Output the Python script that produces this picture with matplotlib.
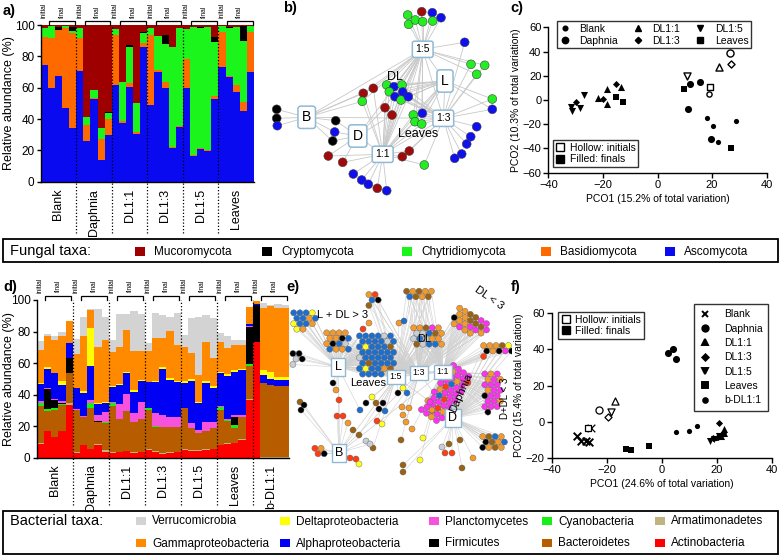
import numpy as np
import matplotlib
matplotlib.use('Agg')
import matplotlib.pyplot as plt
from matplotlib.patches import Rectangle
from matplotlib.lines import Line2D

plt.rcParams['font.family'] = ['Liberation Sans', 'DejaVu Sans']
plt.rcParams['axes.linewidth'] = 1.0
NARROW = ['Liberation Sans Narrow', 'Liberation Sans', 'DejaVu Sans']

W, H = 780, 559
fig = plt.figure(figsize=(W / 100, H / 100), dpi=100)


def add_px_axes(x0, y0, x1, y1, **kw):
    return fig.add_axes([x0 / W, 1 - y1 / H, (x1 - x0) / W, (y1 - y0) / H], **kw)


# ---------------------------------------------------------------- data (a)
groups_a = ['Blank', 'Daphnia', 'DL1:1', 'DL1:3', 'DL1:5', 'Leaves']
fungal_taxa = ['Mucoromycota', 'Cryptomycota', 'Chytridiomycota', 'Basidiomycota', 'Ascomycota']
fungal_colors = ['#9e0000', '#000000', '#1cf51c', '#ff6a00', '#0a0af0']
ascomycota = [74.5, 59.6, 67.4, 47.2, 34, 70.6, 26.2, 52.6, 13.8, 29.8,
              61.7, 37.2, 60.2, 30.2, 86.2, 48.9, 70.2, 59.6, 21.7, 34.7,
              59.6, 16.4, 20.6, 19.8, 52.8, 73.4, 66.6, 57.4, 45.3, 70.2]
basidiomycota = [18, 31.9, 29.6, 51.1, 61, 21.4, 10, 0.6, 13.2, 10,
                 31.9, 1.8, 3, 1.3, 2.1, 44.7, 1.1, 4.2, 0.5, 0.8,
                 18.4, 0.6, 0.7, 0.6, 2.1, 22.3, 0.8, 4.3, 5.7, 25.5]
chytridiomycota = [5.8, 8, 0, 1.2, 1, 6.3, 5.3, 5.3, 7, 3.8,
                   3.6, 24.8, 22.5, 18.5, 6.4, 4.3, 21.7, 23.9, 63.5, 62.4,
                   19.4, 82, 76.6, 78.6, 34.1, 3.7, 30.9, 37.2, 39, 3.7]
cryptomycota = [0, 0, 2, 0, 3, 0, 0, 0, 0, 0.8,
                0, 0, 1.5, 0, 1, 0, 0, 5.9, 0, 0,
                0, 0, 1.1, 0, 3.5, 0, 0.6, 0, 9.4, 0]
mucoromycota = [1.7, 0.5, 1, 0.5, 1, 1.7, 58.5, 41.5, 66, 55.6,
                2.8, 36.2, 12.8, 50, 4.3, 2.1, 7, 6.4, 14.3, 2.1,
                2.6, 1, 1, 1, 7.5, 0.6, 1.1, 1.1, 0.6, 0.6]

# ---------------------------------------------------------------- data (d)
groups_d = ['Blank', 'Daphnia', 'DL1:1', 'DL1:3', 'DL1:5', 'Leaves', 'b-DL1:1']
bact_taxa = ['Verrucomicrobia', 'Gammaproteobacteria', 'Deltaproteobacteria', 'Alphaproteobacteria',
             'Planctomycetes', 'Firmicutes', 'Cyanobacteria', 'Bacteroidetes',
             'Armatimonadetes', 'Actinobacteria']
bact_colors = ['#d3d3d3', '#ff8a00', '#ffff00', '#0000f5', '#f752dc', '#000000',
               '#17f017', '#b85c00', '#c2b37e', '#ff0000']
actinobacteria = [9, 17, 13.5, 17, 33.5, 3, 8.5, 5.5, 8.5, 4, 3, 3.5, 4.5, 3, 3.5,
                  5, 4, 2.5, 3, 3.5, 5, 4.5, 4.5, 5, 5.5, 8, 9, 9.3, 11.4, 36.7, 73.5, 0, 0, 0, 0]
armatimonadetes = [0.5, 0, 0, 0, 1, 0.5, 0, 0.5, 0.5, 1, 0.5, 0, 0, 0.5, 0.5,
                   0.5, 0.5, 0.5, 0.5, 0.5, 1, 0.5, 0.5, 0.5, 0.5, 0.5, 0.5, 0.5, 0.6, 0.5, 0, 0.5, 0.5, 0.5, 0.5]
bacteroidetes = [23.5, 13, 17, 16.5, 19.5, 27, 17.5, 25.5, 14, 17, 29.5, 21.5, 25, 19.5, 20.5,
                 24.9, 15.3, 16.8, 16.3, 15.8, 25.4, 13.8, 10.6, 11.4, 13, 22, 14, 9, 14, 21, 0, 47, 45.5, 45, 45]
cyanobacteria = [2, 1, 1, 0.5, 0, 0, 0, 3, 0, 0.5, 2, 0, 0, 0, 0,
                 1.1, 0.3, 0, 0, 0, 0.5, 0, 0, 0, 0.3, 1.5, 0.5, 2.2, 0, 1, 0, 0, 0, 0, 0]
firmicutes = [0, 12.5, 5.5, 1, 9, 0, 0, 0, 0.5, 0, 0, 0, 0, 0, 0,
              0, 0, 0, 0, 0, 0, 0, 0, 0, 0, 0.5, 0, 5, 0, 23.8, 23.5, 0, 0, 0, 0]
planctomycetes = [1, 0.5, 0.5, 1, 0.5, 0.5, 0.5, 2.5, 4, 6.5, 0.5, 9, 11, 5.5, 11,
                  0, 8.2, 7.4, 6.4, 6.4, 0, 3.2, 2.1, 6.1, 3.2, 0.5, 1, 1.5, 1.5, 0.5, 0, 0, 0, 0, 0]
alphaproteobacteria = [11, 12.5, 16.5, 10.5, 9.5, 13, 14.5, 21.5, 6.5, 5.5, 9.5, 12.5, 13, 13.5, 13,
                       16.4, 19.6, 29.1, 23.2, 21.8, 15.4, 26.7, 16.9, 24.5, 21.8,
                       20.5, 27, 27, 28, 1, 0.5, 5, 4, 4, 4]
deltaproteobacteria = [0.5, 1, 0, 2, 0, 0.5, 1.5, 23.5, 1, 1, 0.5, 0.5, 1, 1, 1,
                       0, 1, 1, 1, 1, 1.2, 1.2, 1, 1, 1, 1, 1, 1, 1, 0, 0, 3, 4.5, 1.5, 1.5]
gammaproteobacteria = [21, 19.5, 21, 28.5, 13.5, 21.5, 34.5, 11.5, 35, 39.5, 21.5, 23, 26.5, 24.5, 18.5,
                       20.1, 26.9, 18.5, 30, 22.5, 21.9, 16.4, 16.9, 25.1, 18,
                       19, 16.5, 16, 15, 11, 2, 39.5, 41.5, 44, 44]
verrucomicrobia = [5.5, 1.5, 2, 3, 0, 9.5, 12.5, 1, 24, 14, 8, 21, 10, 25.5, 23,
                   4.8, 15.8, 14.7, 9.1, 20.1, 7.4, 22.1, 37, 16.9, 25.4,
                   5.5, 7.5, 3.5, 3.5, 0, 0, 3, 1, 2.5, 2]

# ---------------------------------------------------------------- data (c)
pc_groups = ['Blank', 'Daphnia', 'DL1:1', 'DL1:3', 'DL1:5', 'Leaves']
c_init_x = [18.7, 26.6, 22.5, 26.8, 10.7, 19.2]
c_init_y = [4.7, 39, 27.5, 29.4, 19.8, 10.5]
c_fin_x = [[18.3, 20.5, 28.8, 22.0], [11.8, 15.7, 11.0, 19.5], [-21.7, -18.6, -18.4, -13.5],
           [-29.9, -19.8, -15.2], [-31.8, -31.5, -28.4, -26.8], [9.7, -15.3, -12.5, 26.8]]
c_fin_y = [[-14.6, -21.5, -17.1, -34.4], [13.2, 15.1, -7.4, -32.0], [1.4, -3.3, 9.4, 11.0],
           [-1.7, 1.1, 13.2], [-6.1, -8.8, -7.0, 4.1], [8.8, 2.7, -1.7, -39.4]]

# ---------------------------------------------------------------- data (f)
pf_groups = ['Blank', 'Daphnia', 'DL1:1', 'DL1:3', 'DL1:5', 'Leaves', 'b-DL1:1']
f_init_x = [-25.8, -22.7, -17.1, -19.4, -18.4, -26.9, None]
f_init_y = [-3.5, 6.7, 11.5, 2.9, 5.3, -3.5, None]
f_fin_x = [[-30.9, -29.3, -27.6, -26.3], [2.4, 4.0, 5.1], [22.7, 21.5, 22.8],
           [20.8, 22.2, 18.8, 20.4], [17.6, 19.0, 21.0], [-13.0, -11.2, -4.7], [5.1, 9.8, 12.7, 19.8]]
f_fin_y = [[-7.7, -10.3, -10.5, -11.0], [38.0, 40.0, 34.6], [-4.1, -8.0, -6.0],
           [-0.4, -5.9, -9.0, -8.2], [-10.5, -9.5, -7.6], [-15.0, -15.6, -13.0], [-5.4, -4.8, -2.0, -8.6]]

# ---------------------------------------------------------------- data (b) network
b_hub_names = ['1:5', 'L', 'B', 'D', '1:3', '1:1']
b_hub_keys = ['5', 'L', 'B', 'D', '3', '1']
b_hub_x = [422.7, 445.0, 306.7, 357.7, 443.3, 382.7]
b_hub_y = [49.3, 81.0, 117.3, 136.0, 118.3, 154.3]
b_hub_fs = [7.5, 10, 10, 10, 7.5, 7.5]
b_hub_links = ['B5', 'B3', 'D1', 'D5', '51', '53', 'L3', 'L1', '31', 'L5']
b_node_x = [407.7, 421.7, 432.3, 441, 408.7, 415.3, 422.7, 432.7, 464.7, 471, 484.7, 476.7,
            492.3, 492.3, 476.7, 470.7, 466.7, 461.7, 454.7, 386.7, 394, 402, 389.3, 402.7,
            395, 401, 408.3, 373.3, 363.3, 362.3, 385, 392, 413.3, 422.3, 415, 421.7,
            276.7, 276.7, 277.3, 335.7, 334.7, 332.7, 328.3, 342.7, 409.3, 402.3, 424.3,
            353.3, 361.7, 368.3, 377.3, 386.7]
b_node_y = [15, 11.7, 12.7, 17.7, 24.3, 20, 21.7, 21, 42.3, 64.3, 65.3, 74.3,
            99, 109.3, 126.7, 136.7, 144, 154, 158.3, 85, 86.7, 85, 91.7, 92,
            96.7, 100, 96.7, 88.3, 93.3, 101.3, 107.7, 115, 115, 113.3, 121.7, 124,
            109.3, 118.3, 125.7, 120.7, 132, 141, 156, 162.3, 151, 156.7, 165,
            174, 180, 184.3, 188.3, 190.7]
b_node_taxon = 'GMBBGGGGBGGGGBBBBBBGBGGBBGBMMGMMGBGGKKBKBKMMMMGBBBMB'
b_node_hubs = ['5'] * 8 + ['53'] + ['53'] * 3 + ['L3'] * 2 + ['3'] * 5 + ['5L31'] * 8 + \
              ['B51'] * 3 + ['51D'] * 2 + ['L351'] * 4 + ['B'] * 3 + ['DB'] * 3 + ['D1'] * 2 + \
              ['13'] * 2 + ['13'] + ['1'] * 5
b_colors = {'M': '#a00a0a', 'K': '#000000', 'G': '#22ee22', 'B': '#1010ee'}

# ---------------------------------------------------------------- data (e) network
e_hub_names = ['L', 'B', 'D', '1:5', '1:3', '1:1']
e_hub_keys = ['L', 'B', 'D', '5', '3', '1']
e_hub_x = [338, 339, 453, 396, 419, 443]
e_hub_y = [367, 453, 418, 377, 373, 372]
e_hub_fs = [9, 9, 9, 6.5, 6.5, 6.5]
e_hub_links = ['L5', 'L3', 'L1', 'B5', 'B3', 'B1', 'BL', 'D5', 'D3', 'D1', '53', '31', '51']
# clusters: hubs, centre x, centre y, columns, angle (deg), taxa of members
e_cl_hubs = ['L', 'L5', 'L', '53', '315', '531', '13', '1D', 'L53', 'D1', 'D1', 'D', 'B']
e_cl_x = [303, 336, 296, 372, 419, 426, 469, 496, 375, 445, 491, 492, 318]
e_cl_y = [321, 341, 359, 300, 294, 336, 323, 351, 355, 393, 393, 442, 451]
e_cl_cols = [4, 4, 2, 2, 5, 5, 6, 5, 6, 4, 3, 4, 2]
e_cl_angle = [0, 0, 0, 0, 0, 0, 30, 0, 0, 36, 0, 0, 0]
e_cl_taxa = ['bbbybbobybboyo', 'ooooookbokbgboob', 'kkgkg', 'orbkn', 'nonoobnon',
             'oonmoggbnogbgoongbbo', 'oonnmmoonnnmkoommoomoo', 'ooonykokmkr',
             'bbbbgbbbbbgbbybbbnbbbbbbgbbbbbbnbbbbbybbonbbbb',
             'mmmmommrmmommbmmmrmmommmmbrmmmmmomromnmmmmom',
             'momomommmommkmmmmommmk', 'onboknobkono', 'rork']
e_single_x = [363, 369, 399, 404, 333, 336, 300, 304, 301, 339, 337, 343, 348, 353, 359, 373,
              366, 370, 350, 356, 359, 372, 366, 376, 383, 379, 385, 377, 382, 360, 398, 403,
              407, 402, 409, 403, 406, 412, 401, 423, 420, 403, 403, 442, 449, 445, 452, 460,
              473, 462, 430, 432]
e_single_y = [329, 323, 323, 321, 383, 390, 402, 405, 410, 400, 416, 416, 423, 430, 435, 448,
              441, 444, 458, 459, 464, 397, 403, 403, 403, 409, 411, 421, 424, 410, 393, 388,
              393, 407, 408, 415, 422, 429, 440, 438, 460, 465, 472, 447, 444, 453, 453, 440,
              458, 468, 402, 410]
e_single_taxon = ('roob' 'konkk' 'rrr' 'onnn' 'gg' 'rry' 'yknkk' 'bryb' 'kyb' 'ooooo'
                  'n' 'yy' 'nn' 'g' 'n' 'rr' 'n' 'o' 'n' 'm' 'o')
e_single_hubs = ['L', 'L', '5', '5', 'L', 'L', 'B', 'B', 'B', 'B', 'B', 'B', 'B', 'B', '5', '5',
                 'B', 'B', 'B', 'B', 'B', '5', '5', '5', '5', '5', '5', '5', '3', 'L', '5', '5',
                 '3', '3', '3', '3', '3', '1', '3', '1', '1', 'D', 'D', 'D', 'D', 'D', 'D', 'D',
                 'D', 'D', '1', '1']
e_colors = {'b': '#1c6fcf', 'o': '#f59a2a', 'n': '#9a6213', 'm': '#ff30f0', 'r': '#ff3c12',
            'g': '#c8ced3', 'y': '#ffff22', 'k': '#000000', 'G': '#22ee22'}


# ================================================================ helpers
def style_bar_axes(ax, nbars, label_x):
    ax.set_xlim(0, nbars)
    ax.set_ylim(0, 100)
    ax.set_yticks([0, 20, 40, 60, 80, 100])
    ax.set_xticks([])
    for s in ['top', 'right']:
        ax.spines[s].set_visible(False)
    ax.tick_params(axis='y', direction='out', length=3, width=1, labelsize=8.5, pad=1.5)
    ax.set_ylabel('Relative abundance (%)', fontsize=9)
    ax.yaxis.set_label_coords(label_x, 0.5)
    ax.set_facecolor('none')


def draw_groups(ax, groups, top_bracket, top_text, dotted_bottom, lab_y):
    tr = ax.get_xaxis_transform()
    for g, name in enumerate(groups):
        x0 = g * 5
        ax.text(x0 + 2.5, lab_y, name, rotation=90, ha='center', va='top',
                fontsize=9, transform=tr)
        ax.text(x0 + 0.5, top_text, 'initial', rotation=90, ha='center', va='bottom',
                fontsize=4.8, transform=tr, clip_on=False)
        ax.text(x0 + 3, top_text + 0.005, 'final', rotation=90, ha='center', va='bottom',
                fontsize=4.8, transform=tr, clip_on=False)
        ax.plot([x0 + 1.2, x0 + 1.2, x0 + 4.8, x0 + 4.8],
                [1.003, top_bracket, top_bracket, 1.003], color='black', lw=0.9,
                transform=tr, clip_on=False, solid_joinstyle='miter')
        if g > 0:
            ax.plot([x0, x0], [dotted_bottom, 1.0], ls=(0, (1, 1.6)), color='black', lw=0.9,
                    transform=tr, clip_on=False, zorder=5)


def stacked(ax, series, colors):
    n = len(series[0])
    x = np.arange(n) + 0.5
    bottom = np.zeros(n)
    for vals, col in zip(series, colors):
        v = np.asarray(vals, dtype=float)
        ax.bar(x, v, width=1.0, bottom=bottom, color=col, edgecolor='none', linewidth=0)
        bottom += v


def prism_axes(ax, xlim, ylim, xt, yt, xlabel, ylabel):
    ax.set_xlim(*xlim)
    ax.set_ylim(*ylim)
    ax.set_xticks(xt)
    ax.set_yticks(yt)
    for s in ['top', 'right']:
        ax.spines[s].set_visible(False)
    ax.tick_params(direction='out', length=3.5, width=1, labelsize=8, pad=1.5)
    ax.set_xlabel(xlabel, fontsize=7.5, labelpad=3)
    ax.set_ylabel(ylabel, fontsize=7.5, labelpad=1)
    ax.set_facecolor('none')


def hex_pack(n, cx, cy, ncols, angle, d=6.2):
    pts = []
    nrows = int(np.ceil(n / ncols))
    a = np.deg2rad(angle)
    for i in range(n):
        r, c = divmod(i, ncols)
        px = (c - (ncols - 1) / 2 + 0.5 * (r % 2)) * d
        py = (r - (nrows - 1) / 2) * d * 0.88
        pts.append((cx + px * np.cos(a) - py * np.sin(a), cy + px * np.sin(a) + py * np.cos(a)))
    return pts


hub_box = dict(boxstyle='round,pad=0.3,rounding_size=0.2', fc='white', ec='#8fb9d4', lw=1.1)

# ================================================================ panel a
ax_a = add_px_axes(40.7, 25, 254, 181.7)
stacked(ax_a, [ascomycota, basidiomycota, chytridiomycota, cryptomycota, mucoromycota],
        ['#0a0af0', '#ff6a00', '#1cf51c', '#000000', '#9e0000'])
style_bar_axes(ax_a, 30, (15.5 - 40.7) / 213.3)
draw_groups(ax_a, groups_a, 1.027, 1.042, -0.33, -0.045)

# ================================================================ panel d
ax_d = add_px_axes(36.7, 300, 288.7, 458)
stacked(ax_d, [actinobacteria, armatimonadetes, bacteroidetes, cyanobacteria, firmicutes,
               planctomycetes, alphaproteobacteria, deltaproteobacteria, gammaproteobacteria,
               verrucomicrobia], bact_colors[::-1])
style_bar_axes(ax_d, 35, (15.5 - 36.7) / 252)
draw_groups(ax_d, groups_d, 1.027, 1.045, -0.30, -0.04)

# ================================================================ panel b
ax_b = add_px_axes(260, 0, 510, 240)
ax_b.set_xlim(260, 510)
ax_b.set_ylim(240, 0)
ax_b.axis('off')
hub_pos_b = dict(zip(b_hub_keys, zip(b_hub_x, b_hub_y)))
for link in b_hub_links:
    (x1, y1), (x2, y2) = hub_pos_b[link[0]], hub_pos_b[link[1]]
    ax_b.plot([x1, x2], [y1, y2], color='#c8c8c8', lw=0.6, zorder=1)
for x, y, hubs in zip(b_node_x, b_node_y, b_node_hubs):
    for h in hubs:
        hx, hy = hub_pos_b[h]
        ax_b.plot([x, hx], [y, hy], color='#c8c8c8', lw=0.6, zorder=1)
ax_b.scatter(b_node_x, b_node_y, s=40, c=[b_colors[t] for t in b_node_taxon],
             edgecolors='#404040', linewidths=0.4, zorder=3)
for name, x, y, fs in zip(b_hub_names, b_hub_x, b_hub_y, b_hub_fs):
    ax_b.text(x, y, name, ha='center', va='center', fontsize=fs, zorder=5, bbox=hub_box)
ax_b.text(395, 77, 'DL', ha='center', va='center', fontsize=9, zorder=6)
ax_b.text(418, 134, 'Leaves', ha='center', va='center', fontsize=9, zorder=6)

# ================================================================ panel e
ax_e = add_px_axes(285, 275, 512, 510)
ax_e.set_xlim(285, 512)
ax_e.set_ylim(510, 275)
ax_e.axis('off')
hub_pos_e = dict(zip(e_hub_keys, zip(e_hub_x, e_hub_y)))
ex, ey, ec, eh = [], [], [], []
for hubs, cx, cy, nc, ang, taxa in zip(e_cl_hubs, e_cl_x, e_cl_y, e_cl_cols, e_cl_angle, e_cl_taxa):
    for (px, py), t in zip(hex_pack(len(taxa), cx, cy, nc, ang), taxa):
        ex.append(px); ey.append(py); ec.append(t); eh.append(hubs)
ex += e_single_x; ey += e_single_y; ec += list(e_single_taxon); eh += e_single_hubs
for link in e_hub_links:
    (x1, y1), (x2, y2) = hub_pos_e[link[0]], hub_pos_e[link[1]]
    ax_e.plot([x1, x2], [y1, y2], color='#cfcfcf', lw=0.5, zorder=1)
for x, y, hubs in zip(ex, ey, eh):
    for h in hubs:
        hx, hy = hub_pos_e[h]
        ax_e.plot([x, hx], [y, hy], color='#cfcfcf', lw=0.4, zorder=1)
ax_e.scatter(ex, ey, s=19, c=[e_colors[t] for t in ec], edgecolors='#606060',
             linewidths=0.3, zorder=3)
for name, x, y, fs in zip(e_hub_names, e_hub_x, e_hub_y, e_hub_fs):
    ax_e.text(x, y, name, ha='center', va='center', fontsize=fs, zorder=5,
              bbox=dict(boxstyle='square,pad=0.25', fc='white', ec='#8fb9d4', lw=1.0))
ax_e.text(343, 315, 'L + DL > 3', ha='center', va='center', fontsize=8, zorder=6)
ax_e.text(489, 298, 'DL < 3', ha='center', va='center', fontsize=8, rotation=-35, zorder=6)
ax_e.text(424, 339, 'DL', ha='center', va='center', fontsize=8, zorder=6)
ax_e.text(368, 383, 'Leaves', ha='center', va='center', fontsize=8, zorder=6)
ax_e.text(461, 393, 'Daphnia', ha='center', va='center', fontsize=8, rotation=66, zorder=6)

# ================================================================ marker styles
mk = {'Blank': ('o', 14), 'Daphnia': ('o', 26), 'DL1:1': ('^', 26), 'DL1:3': ('D', 13),
      'DL1:5': ('v', 26), 'Leaves': ('s', 22), 'b-DL1:1': ('o', 14)}

# ================================================================ panel c
ax_c = add_px_axes(548.3, 27.3, 766.7, 172.7)
prism_axes(ax_c, (-40, 40), (-60, 60), [-40, -20, 0, 20, 40], [-60, -40, -20, 0, 20, 40, 60],
           'PCO1 (15.2% of total variation)', 'PCO2 (10.3% of total variation)')
handles_c = []
for g, ix, iy, fx, fy in zip(pc_groups, c_init_x, c_init_y, c_fin_x, c_fin_y):
    m, s = mk[g]
    ax_c.scatter(fx, fy, marker=m, s=s, c='black', linewidths=0, zorder=3, clip_on=False)
    ax_c.scatter([ix], [iy], marker=m, s=s, facecolors='white', edgecolors='black',
                 linewidths=1.0, zorder=3, clip_on=False)
    handles_c.append(Line2D([], [], ls='none', marker=m, color='black',
                            markersize=np.sqrt(s) * 0.9, label=g))
leg1 = ax_c.legend(handles=handles_c, ncol=3, loc='upper left', bbox_to_anchor=(0.04, 1.04),
                   fontsize=7.5, frameon=True, fancybox=False, edgecolor='black',
                   borderpad=0.25, labelspacing=0.15, handletextpad=0.9, columnspacing=1.4,
                   handlelength=1.0, borderaxespad=0)
leg1.get_frame().set_linewidth(1.0)
ax_c.add_artist(leg1)
hh = [Line2D([], [], ls='none', marker='s', mfc='white', mec='black', mew=1, markersize=6,
             label='Hollow: initials'),
      Line2D([], [], ls='none', marker='s', color='black', markersize=6, label='Filled: finals')]
leg2 = ax_c.legend(handles=hh, loc='lower left', bbox_to_anchor=(0.02, 0.04), fontsize=7.5,
                   frameon=True, fancybox=False, edgecolor='black', borderpad=0.25,
                   labelspacing=0.15, handletextpad=0.4, handlelength=1.0, borderaxespad=0)
leg2.get_frame().set_linewidth(1.0)

# ================================================================ panel f
ax_f = add_px_axes(551.7, 312.7, 771.7, 458.3)
prism_axes(ax_f, (-40, 40), (-20, 60), [-40, -20, 0, 20, 40], [-20, 0, 20, 40, 60],
           'PCO1 (24.6% of total variation)', 'PCO2 (15.4% of total variation)')
handles_f = []
for g, ix, iy, fx, fy in zip(pf_groups, f_init_x, f_init_y, f_fin_x, f_fin_y):
    m, s = mk[g]
    if g == 'Blank':
        m, s = 'x', 30
        ax_f.scatter(fx, fy, marker=m, s=s, c='black', linewidths=1.4, zorder=3)
        ax_f.scatter([ix], [iy], marker=m, s=s, c='black', linewidths=0.9, zorder=3)
    else:
        ax_f.scatter(fx, fy, marker=m, s=s, c='black', linewidths=0, zorder=3)
        if ix is not None:
            ax_f.scatter([ix], [iy], marker=m, s=s, facecolors='white', edgecolors='black',
                         linewidths=0.9, zorder=3)
    handles_f.append(Line2D([], [], ls='none', marker=m, color='black', mew=1.4,
                            markersize=np.sqrt(s) * 0.9, label=g))
leg3 = ax_f.legend(handles=handles_f, loc='upper right', bbox_to_anchor=(0.985, 1.06),
                   fontsize=7.5, frameon=True, fancybox=False, edgecolor='black',
                   borderpad=0.5, labelspacing=0.42, handletextpad=1.4, handlelength=1.0,
                   borderaxespad=0)
leg3.get_frame().set_linewidth(1.0)
ax_f.add_artist(leg3)
leg4 = ax_f.legend(handles=hh, loc='upper left', bbox_to_anchor=(0.028, 1.005), fontsize=7.5,
                   frameon=True, fancybox=False, edgecolor='black', borderpad=0.25,
                   labelspacing=0.15, handletextpad=0.4, handlelength=1.0, borderaxespad=0)
leg4.get_frame().set_linewidth(1.0)

# ================================================================ overlay: labels & taxa keys
ov = fig.add_axes([0, 0, 1, 1], zorder=10)
ov.set_xlim(0, W)
ov.set_ylim(H, 0)
ov.axis('off')
ov.patch.set_alpha(0)
for lab, x, y in [('a)', 3, 11), ('b)', 283, 8), ('c)', 510, 8), ('d)', 3, 287),
                  ('e)', 286, 287), ('f)', 511, 287)]:
    ov.text(x, y, lab, fontsize=10.5, fontweight='bold', ha='left', va='center')
ov.text(505, 398, 'D+DL < 3', rotation=90, fontsize=7, ha='center', va='center')

# fungal key
ov.add_patch(Rectangle((3, 239), 775, 23, fill=False, ec='black', lw=1.3))
ov.text(10, 251, 'Fungal taxa:', fontsize=10.5, va='center', family=NARROW)
fung_sq_x = [135, 262, 402, 541, 665]
for name, col, sx in zip(fungal_taxa, fungal_colors, fung_sq_x):
    ov.add_patch(Rectangle((sx, 247), 10, 8.5, fc=col, ec='none'))
    ov.text(sx + 19, 251.5, name, fontsize=8.5, va='center', family=NARROW)

# bacterial key
ov.add_patch(Rectangle((3, 511), 775, 43, fill=False, ec='black', lw=1.3))
ov.text(10, 521, 'Bacterial taxa:', fontsize=10.5, va='center', family=NARROW)
key_x = [136, 280, 429, 542, 655]
bact_order = [['Verrucomicrobia', 'Deltaproteobacteria', 'Planctomycetes', 'Cyanobacteria',
               'Armatimonadetes'],
              ['Gammaproteobacteria', 'Alphaproteobacteria', 'Firmicutes', 'Bacteroidetes',
               'Actinobacteria']]
bcol = dict(zip(bact_taxa, bact_colors))
for row, yy in zip(bact_order, [521, 543]):
    for name, sx in zip(row, key_x):
        ov.add_patch(Rectangle((sx, yy - 4.5), 10, 8.5, fc=bcol[name], ec='none'))
        ov.text(sx + 16, yy + 0.5, name, fontsize=8.5, va='center', family=NARROW)

fig.savefig('out.png', dpi=100)
